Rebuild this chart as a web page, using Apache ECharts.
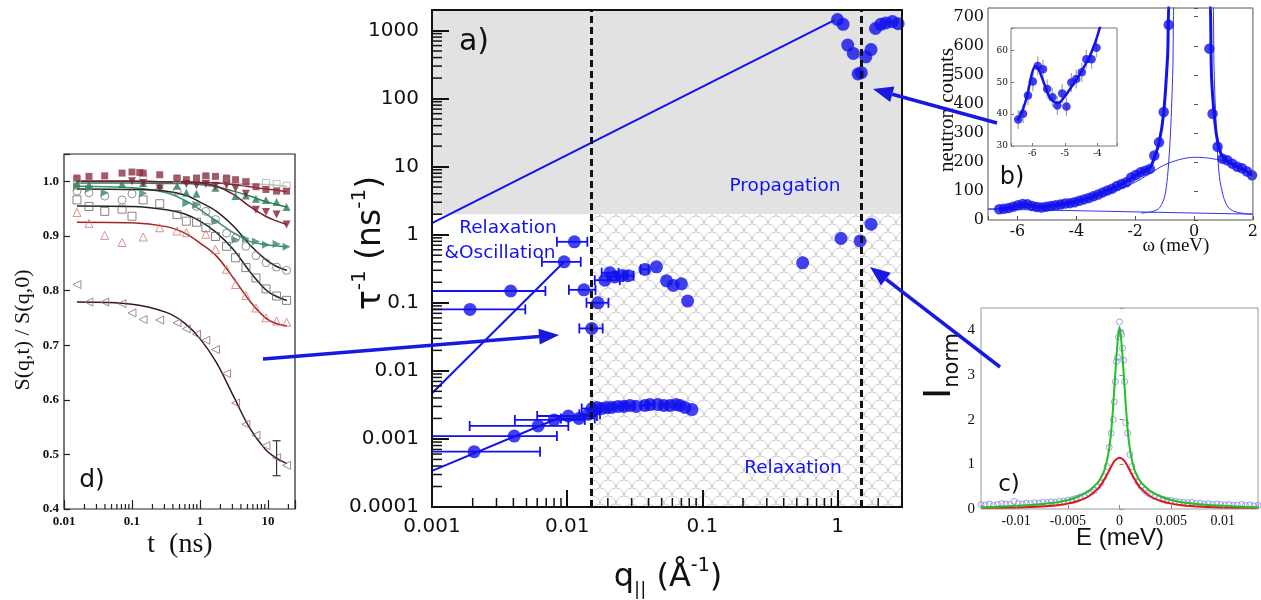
<!DOCTYPE html>
<html>
<head>
<meta charset="utf-8">
<script src="https://cdn.jsdelivr.net/npm/echarts@6/dist/echarts.min.js"></script>
<style>
  html, body { margin: 0; padding: 0; background: #fff; }
  #chart { width: 1261px; height: 600px; }
</style>
</head>
<body>
<div id="chart"></div>
<script>
// ---------- a) relaxation rate vs in-plane q ----------
const qMin = 0.001, qMax = 3, rMin = 0.0001, rMax = 2000;
const qBounds = [0.015, 1.5];      // dashed separators
const rBound = 2;                  // top of the relaxation zone

const qProp = [1.0, 1.10, 1.19, 1.31, 1.42, 1.50, 1.62, 1.77, 1.91, 2.09, 2.28, 2.55, 2.81];
const rProp = [1450, 1230, 610, 460, 230, 240, 410, 525, 1070, 1230, 1290, 1350, 1260];
const qHigh = [0.552, 1.06, 1.47, 1.77];
const rHigh = [0.386, 0.88, 0.81, 1.43];

const qOsc = [0.00191, 0.00382, 0.0095, 0.0113, 0.0133, 0.0152, 0.0169, 0.019, 0.0207, 0.0225, 0.0253, 0.0283, 0.0376, 0.0458, 0.0543, 0.0609, 0.070, 0.0778];
const rOsc = [0.080, 0.149, 0.40, 0.787, 0.155, 0.042, 0.10, 0.215, 0.276, 0.24, 0.252, 0.25, 0.309, 0.337, 0.21, 0.18, 0.19, 0.106];
const qOscLo = [0.001, 0.001, 0.0065, 0.0084, 0.0103, 0.0123, 0.0139, 0.016, 0.018, 0.020, 0.023, 0.026, 0.035, null, null, null, null, null];
const qOscHi = [0.0049, 0.0069, 0.0126, 0.0141, 0.0162, 0.0183, 0.0202, 0.0245, 0.024, 0.026, 0.028, 0.031, 0.040, null, null, null, null, null];

const qRel = [0.00205, 0.00406, 0.0061, 0.0080, 0.0102, 0.0122, 0.0143, 0.01525, 0.0166, 0.0181, 0.0197, 0.0214, 0.0238, 0.0263, 0.0291, 0.0323, 0.0376, 0.041, 0.047, 0.052, 0.0576, 0.0638, 0.0683, 0.0743, 0.0838];
const rRel = [0.00065, 0.0011, 0.00155, 0.0019, 0.00217, 0.0020, 0.0023, 0.0028, 0.0029, 0.0028, 0.0029, 0.0029, 0.0030, 0.0030, 0.0031, 0.0030, 0.0031, 0.0032, 0.0032, 0.0031, 0.0031, 0.0032, 0.0031, 0.0029, 0.0027];
const qRelLo = [0.001, 0.001, 0.0019, 0.0041, 0.006, 0.009, 0.0123, 0.0128, null, 0.016, null, null, 0.022, null, 0.027, null, 0.0355, 0.039, null, 0.049, null, null, null, null, null];
const qRelHi = [0.0063, 0.0084, 0.0102, 0.0135, 0.0166, 0.016, 0.0175, 0.0178, null, 0.0205, null, null, 0.0258, null, 0.0315, null, 0.040, 0.0435, null, 0.055, null, null, null, null, null];

const propLine = [[0.001, 1.48], [0.95, 1420]];
const diffLine = [[0.001, 0.0047], [0.0095, 0.40]];
const relLine = [[0.001, 0.00034], [0.009, 0.0021]];

// ---------- d) intermediate scattering functions ----------
const tD = [0.0155, 0.0233, 0.0397, 0.0715, 0.100, 0.130, 0.146, 0.256, 0.46, 0.63, 0.89, 1.22, 1.69, 2.46, 3.34, 4.74, 6.66, 9.34, 13.4, 18.8];
const sSqFill = [1.006, 1.009, 1.010, 1.015, 1.017, 1.016, 1.015, 1.012, 1.006, 1.003, 1.006, 1.010, 1.009, 1.006, 1.003, 0.999, 0.990, 0.985, 0.982, 0.982];
const sSqLight = [1.003, null, null, null, null, null, 1.008, null, 1.004, null, null, 1.007, null, 1.003, null, 0.999, null, 0.997, 0.995, 0.992];
const sTriUp = [0.997, 0.994, null, 0.995, null, null, 0.997, 0.993, 0.992, 0.979, 0.977, null, 0.988, null, 0.973, 0.974, 0.968, 0.966, 0.962, 0.953];
const sTriDown = [null, null, null, null, 1.0, null, 0.997, 0.987, null, 0.995, 0.993, 0.995, 0.992, 0.993, 0.987, 0.977, 0.948, 0.944, 0.939, 0.921];
const sTriRight = [0.990, 0.986, 0.979, null, null, null, 0.978, null, null, 0.960, 0.957, null, 0.927, null, 0.893, 0.895, 0.890, 0.884, 0.885, 0.880];
const sCircle = [0.982, 0.979, 0.973, 0.966, 0.977, null, null, null, 0.982, null, 0.954, 0.945, 0.930, 0.905, 0.896, 0.881, 0.864, 0.851, 0.843, 0.837];
const sSqOpen = [0.966, 0.954, 0.945, 0.949, 0.936, null, 0.966, 0.959, 0.939, 0.927, 0.925, 0.915, 0.899, 0.881, 0.860, 0.842, 0.823, 0.803, 0.790, 0.782];
const sTriOpen = [0.943, 0.923, 0.901, 0.888, null, null, 0.898, 0.915, 0.909, 0.906, null, 0.903, 0.875, 0.839, 0.811, 0.791, 0.768, 0.750, 0.744, 0.742];
const sTriLeft = [0.811, 0.779, 0.779, 0.776, 0.759, null, 0.747, 0.746, 0.741, 0.730, 0.720, 0.709, 0.692, 0.648, 0.594, 0.555, 0.535, 0.516, 0.494, 0.480];
const dErr = [13.4, 0.461, 0.525];

const tFit = [0.0155, 0.1, 0.32, 0.6, 1.0, 1.75, 3.1, 5.4, 9.2, 13, 19];
const fitLight = [1.000, 1.000, 0.999, 0.999, 0.998, 0.997, 0.996, 0.995, 0.994, 0.993, 0.991];
const fitSqFill = [1.000, 1.000, 0.999, 0.999, 0.998, 0.997, 0.994, 0.990, 0.986, 0.984, 0.981];
const fitTriUp = [0.997, 0.997, 0.996, 0.996, 0.994, 0.990, 0.982, 0.973, 0.963, 0.958, 0.953];
const fitTriDown = [1.000, 1.000, 0.999, 0.998, 0.997, 0.991, 0.976, 0.954, 0.936, 0.928, 0.921];
const fitTriRight = [0.991, 0.988, 0.979, 0.965, 0.948, 0.927, 0.906, 0.890, 0.884, 0.882, 0.880];
const fitCircle = [0.986, 0.985, 0.982, 0.975, 0.962, 0.945, 0.918, 0.884, 0.857, 0.845, 0.837];
const fitSqOpen = [0.955, 0.954, 0.948, 0.940, 0.927, 0.906, 0.875, 0.835, 0.802, 0.790, 0.782];
const fitTriOpen = [0.925, 0.924, 0.917, 0.905, 0.887, 0.863, 0.823, 0.781, 0.750, 0.740, 0.735];
const fitTriLeft = [0.779, 0.775, 0.760, 0.740, 0.712, 0.668, 0.607, 0.548, 0.509, 0.494, 0.483];

// ---------- b) neutron spectrum ----------
const bW = [-6.62, -6.46, -6.30, -6.14, -5.98, -5.82, -5.66, -5.50, -5.34, -5.18, -5.02, -4.86, -4.70, -4.54, -4.38, -4.22, -4.06, -3.90, -3.74, -3.58, -3.42, -3.26, -3.10, -2.94, -2.78, -2.62, -2.46, -2.30, -2.14, -1.98, -1.82, -1.66, -1.50, -1.35, -1.19, -1.03, -0.86, 0.52, 0.63, 0.80, 0.97, 1.13, 1.30, 1.47, 1.63, 1.80, 1.97];
const bCounts = [37, 39, 41, 46, 51, 55, 54, 48, 45, 43, 46, 48, 51, 53, 57, 58, 61, 66, 71, 76, 82, 88, 95, 102, 108, 117, 124, 130, 146, 155, 164, 170, 176, 222, 268, 372, 672, 590, 366, 252, 211, 206, 194, 183, 178, 167, 154];
const bFitW = [-6.62, -6.46, -6.30, -6.14, -5.98, -5.82, -5.66, -5.50, -5.34, -5.18, -5.02, -4.70, -4.38, -4.06, -3.74, -3.42, -3.10, -2.78, -2.46, -2.14, -1.82, -1.50, -1.35, -1.19, -1.03, -0.90, -0.80, 0.50, 0.60, 0.75, 0.90, 1.05, 1.30, 1.60, 2.00];
const bFit = [37, 39, 42, 47, 52, 54, 53, 49, 46, 45, 46, 51, 57, 63, 71, 83, 96, 109, 124, 143, 163, 180, 215, 265, 370, 560, 760, 760, 480, 300, 232, 210, 193, 178, 154];
const bBgW = [-7, 2];
const bBg = [38, 20];
const bBroadW = [-7, -6, -5, -4, -3, -2, -1.5, -1, -0.5, 0, 0.5, 1, 1.5, 2];
const bBroad = [37, 42, 50, 63, 88, 130, 160, 190, 208, 216, 213, 203, 183, 157];
const bNarrowW = [-1.8, -1.5, -1.3, -1.15, -1.0, -0.9, -0.8, -0.72, -0.66, 0.62, 0.68, 0.76, 0.86, 1.0, 1.15, 1.35, 1.6, 2.0];
const bNarrow = [24, 27, 33, 45, 80, 150, 300, 520, 760, 760, 520, 300, 150, 80, 45, 30, 24, 20];

const insetW = [-6.43, -6.28, -6.13, -5.98, -5.83, -5.67, -5.54, -5.38, -5.23, -5.08, -4.95, -4.80, -4.65, -4.48, -4.34, -4.18, -4.03];
const insetC = [38.3, 40.1, 45.8, 50.2, 55.1, 54.1, 47.9, 45.3, 42.7, 46.5, 42.4, 49.9, 51.0, 53.1, 57.2, 57.2, 60.8];
const insetErr = [3, 3, 3, 3, 3, 3, 3, 3, 3, 3, 3, 3, 3, 3, 3, 3, 3];
const insetFitW = [-6.45, -6.3, -6.15, -6.0, -5.9, -5.8, -5.65, -5.5, -5.35, -5.2, -5.0, -4.8, -4.6, -4.4, -4.2, -4.05, -3.9];
const insetFit = [38, 41, 46, 53, 55, 54, 50, 46, 44, 43.5, 45.5, 48.5, 51.5, 55, 59, 63, 68];

// ---------- c) normalised intensity ----------
const cE = [-0.0134, -0.0130, -0.0126, -0.0122, -0.0118, -0.0114, -0.0110, -0.0106, -0.0102, -0.0098, -0.0094, -0.0090, -0.0086, -0.0082, -0.0078, -0.0074, -0.0070, -0.0066, -0.0062, -0.0058, -0.0054, -0.0050, -0.0046, -0.0042, -0.0038, -0.0034, -0.0030, -0.0027, -0.0024, -0.0021, -0.0018, -0.0015, -0.0012, -0.0010, -0.0008, -0.0006, -0.0005, -0.0004, -0.0003, -0.0002, -0.0001, 0, 0.0001, 0.0002, 0.0003, 0.0004, 0.0005, 0.0006, 0.0008, 0.0010, 0.0012, 0.0015, 0.0018, 0.0021, 0.0024, 0.0027, 0.0030, 0.0034, 0.0038, 0.0042, 0.0046, 0.0050, 0.0054, 0.0058, 0.0062, 0.0066, 0.0070, 0.0074, 0.0078, 0.0082, 0.0086, 0.0090, 0.0094, 0.0098, 0.0102, 0.0106, 0.0110, 0.0114, 0.0118, 0.0122, 0.0126, 0.0130, 0.0134];
const cI = [0.10, 0.09, 0.11, 0.08, 0.10, 0.12, 0.11, 0.10, 0.17, 0.12, 0.11, 0.13, 0.12, 0.14, 0.13, 0.15, 0.14, 0.16, 0.15, 0.17, 0.18, 0.20, 0.21, 0.24, 0.27, 0.30, 0.35, 0.38, 0.42, 0.50, 0.58, 0.72, 0.95, 1.38, 1.70, 2.00, 2.40, 2.85, 3.30, 3.40, 3.85, 4.19, 3.95, 3.90, 3.60, 3.33, 2.85, 1.93, 1.70, 1.22, 0.95, 0.74, 0.60, 0.50, 0.42, 0.36, 0.33, 0.28, 0.25, 0.22, 0.20, 0.19, 0.17, 0.16, 0.15, 0.14, 0.15, 0.12, 0.13, 0.11, 0.12, 0.10, 0.11, 0.10, 0.09, 0.10, 0.08, 0.09, 0.10, 0.08, 0.09, 0.07, 0.08];
const cGreenE = [-0.0134, -0.012, -0.010, -0.008, -0.006, -0.005, -0.004, -0.003, -0.0025, -0.002, -0.0015, -0.0012, -0.001, -0.0008, -0.0006, -0.0004, -0.0002, 0, 0.0002, 0.0004, 0.0006, 0.0008, 0.001, 0.0012, 0.0015, 0.002, 0.0025, 0.003, 0.004, 0.005, 0.006, 0.008, 0.010, 0.012, 0.0134];
const cGreen = [0.04, 0.05, 0.07, 0.10, 0.15, 0.20, 0.28, 0.40, 0.50, 0.62, 0.85, 1.10, 1.35, 1.75, 2.35, 3.05, 3.70, 4.08, 3.70, 3.05, 2.35, 1.75, 1.35, 1.10, 0.85, 0.62, 0.50, 0.40, 0.28, 0.20, 0.15, 0.10, 0.07, 0.05, 0.04];
const cRedE = [-0.0134, -0.010, -0.008, -0.006, -0.005, -0.004, -0.003, -0.002, -0.0015, -0.001, -0.0005, 0, 0.0005, 0.001, 0.0015, 0.002, 0.003, 0.004, 0.005, 0.006, 0.008, 0.010, 0.0134];
const cRed = [0.02, 0.03, 0.05, 0.085, 0.12, 0.18, 0.28, 0.48, 0.65, 0.86, 1.07, 1.15, 1.07, 0.86, 0.65, 0.48, 0.28, 0.18, 0.12, 0.085, 0.05, 0.03, 0.02];

// ---------- helpers ----------
const BLUE = '#1212ee';
const ARROW = '#1818e0';
const zip = (xs, ys) => xs.map((x, i) => [x, ys[i]]).filter(p => p[1] != null);

function decade(v) {
  const l = Math.log10(v);
  if (Math.abs(l - Math.round(l)) > 1e-6) return '';
  return String(Number(v.toPrecision(3)));
}
function minorTicks(lo, hi) {
  const out = [];
  for (let e = Math.floor(Math.log10(lo)); e <= Math.ceil(Math.log10(hi)); e++) {
    for (let m = 2; m <= 9; m++) {
      const v = +(m * Math.pow(10, e)).toPrecision(3);
      if (v > lo * 1.0001 && v < hi * 0.9999) out.push(v);
    }
  }
  return out;
}
function multipleOf(step, digits) {
  return v => Math.abs(v / step - Math.round(v / step)) < 1e-6 ? v.toFixed(digits) : '';
}

// fish-scale hatch used for the relaxation zone
const tile = document.createElement('canvas');
tile.width = 16; tile.height = 16;
(function () {
  const ctx = tile.getContext('2d');
  ctx.fillStyle = '#ffffff';
  ctx.fillRect(0, 0, 16, 16);
  ctx.strokeStyle = '#cbcbcb';
  ctx.lineWidth = 1;
  const rows = [[-16, 0], [-8, 8], [0, 0], [8, 8], [16, 0]];
  rows.forEach(([y, off]) => {
    for (let x = off - 16; x <= 32; x += 16) {
      ctx.beginPath();
      ctx.arc(x, y + 8, 8, Math.PI, 2 * Math.PI);
      ctx.stroke();
    }
  });
})();

function hErrItem(color, capLo, capH, lw) {
  return function (params, api) {
    const y = api.value(0), lo = api.value(1), hi = api.value(2);
    const a = api.coord([lo, y]), b = api.coord([hi, y]);
    const kids = [{ type: 'line', shape: { x1: a[0], y1: a[1], x2: b[0], y2: b[1] }, style: { stroke: color, lineWidth: lw } }];
    if (lo > capLo) kids.push({ type: 'line', shape: { x1: a[0], y1: a[1] - capH, x2: a[0], y2: a[1] + capH }, style: { stroke: color, lineWidth: lw } });
    kids.push({ type: 'line', shape: { x1: b[0], y1: b[1] - capH, x2: b[0], y2: b[1] + capH }, style: { stroke: color, lineWidth: lw } });
    return { type: 'group', children: kids };
  };
}
function vErrItem(color, capW, lw) {
  return function (params, api) {
    const x = api.value(0), lo = api.value(1), hi = api.value(2);
    const a = api.coord([x, lo]), b = api.coord([x, hi]);
    const kids = [{ type: 'line', shape: { x1: a[0], y1: a[1], x2: b[0], y2: b[1] }, style: { stroke: color, lineWidth: lw } }];
    if (capW > 0) {
      kids.push({ type: 'line', shape: { x1: a[0] - capW, y1: a[1], x2: a[0] + capW, y2: a[1] }, style: { stroke: color, lineWidth: lw } });
      kids.push({ type: 'line', shape: { x1: b[0] - capW, y1: b[1], x2: b[0] + capW, y2: b[1] }, style: { stroke: color, lineWidth: lw } });
    }
    return { type: 'group', children: kids };
  };
}
function tickSeries(xi, vals, vertical, len, lw, color) {
  return {
    type: 'custom', xAxisIndex: xi, yAxisIndex: xi, z: 6, silent: true,
    data: vals, encode: { x: 0, y: 1 },
    renderItem: (p, api) => {
      const c = api.coord([api.value(0), api.value(1)]);
      const shape = vertical
        ? { x1: c[0], y1: c[1], x2: c[0], y2: c[1] - len }
        : { x1: c[0], y1: c[1], x2: c[0] + len, y2: c[1] };
      return { type: 'line', shape, style: { stroke: color, lineWidth: lw } };
    }
  };
}
function errRows(qs, rs, lo, hi) {
  const out = [];
  qs.forEach((q, i) => { if (lo[i] != null) out.push([rs[i], lo[i], hi[i]]); });
  return out;
}
function dScatter(vals, symbol, rotate, color, filled, size) {
  return {
    type: 'scatter', xAxisIndex: 1, yAxisIndex: 1, z: 4,
    data: zip(tD, vals), symbol, symbolRotate: rotate, symbolSize: size,
    itemStyle: filled ? { color } : { color: 'rgba(255,255,255,0)', borderColor: color, borderWidth: 1 }
  };
}
function dLine(vals, color) {
  return {
    type: 'line', xAxisIndex: 1, yAxisIndex: 1, z: 3, data: zip(tFit, vals),
    showSymbol: false, smooth: 0.35, lineStyle: { color, width: 1.5 }
  };
}

const lbl = (family, size, extra) => Object.assign({ color: '#111', fontFamily: family, fontSize: size }, extra || {});

const chart = echarts.init(document.getElementById('chart'));

const option = {
  animation: false,
  backgroundColor: '#fff',
  grid: [
    { left: 432, top: 10, width: 470, height: 497, show: true, z: 10, backgroundColor: 'transparent', borderColor: '#111', borderWidth: 2 },
    { left: 64, top: 154, width: 231, height: 355, show: true, z: 10, backgroundColor: 'transparent', borderColor: '#222', borderWidth: 1.2 },
    { left: 988, top: 8, width: 270, height: 212, show: true, z: 10, backgroundColor: 'transparent', borderColor: '#555', borderWidth: 1 },
    { left: 1011, top: 28, width: 106, height: 118, show: true, z: 3, backgroundColor: '#fff', borderColor: '#777', borderWidth: 1 },
    { left: 981, top: 308, width: 279, height: 201, show: true, z: 10, backgroundColor: 'transparent', borderColor: '#999', borderWidth: 1 }
  ],
  xAxis: [
    { type: 'log', gridIndex: 0, min: qMin, max: qMax, z: 5,
      axisLine: { show: false }, splitLine: { show: false },
      axisTick: { inside: true, length: 17, lineStyle: { color: '#111', width: 2 } },
      axisLabel: lbl('DejaVu Sans', 20, { formatter: decade, margin: 10 }) },
    { type: 'log', gridIndex: 1, min: 0.01, max: 25, z: 5,
      axisLine: { show: false }, splitLine: { show: false },
      axisTick: { inside: true, length: 9, lineStyle: { color: '#222', width: 1.2 } },
      axisLabel: lbl('Liberation Serif', 13, { formatter: decade, margin: 6, fontWeight: 'bold' }) },
    { type: 'value', gridIndex: 2, min: -7, max: 2, splitNumber: 5, z: 5,
      axisLine: { show: false }, splitLine: { show: false },
      axisTick: { inside: true, length: 4, lineStyle: { color: '#555' } },
      axisLabel: lbl('DejaVu Serif', 16, { formatter: multipleOf(2, 0), margin: 4 }) },
    { type: 'value', gridIndex: 3, min: -6.65, max: -3.4, splitNumber: 3, z: 5,
      axisLine: { show: false }, splitLine: { show: false },
      axisTick: { inside: true, length: 3, lineStyle: { color: '#777' } },
      axisLabel: lbl('DejaVu Serif', 9, { formatter: multipleOf(1, 0), margin: 3 }) },
    { type: 'value', gridIndex: 4, min: -0.0134, max: 0.0134, splitNumber: 5, z: 5,
      axisLine: { show: false }, splitLine: { show: false },
      axisTick: { inside: true, length: 4, lineStyle: { color: '#888' } },
      axisLabel: lbl('Liberation Serif', 14, { formatter: v => { const f = multipleOf(0.005, 4)(v); return f === '' ? '' : String(Number(f)); }, margin: 5 }) }
  ],
  yAxis: [
    { type: 'log', gridIndex: 0, min: rMin, max: rMax, z: 5,
      axisLine: { show: false }, splitLine: { show: false },
      axisTick: { inside: true, length: 17, lineStyle: { color: '#111', width: 2 } },
      axisLabel: lbl('DejaVu Sans', 20, { formatter: decade, margin: 13 }) },
    { type: 'value', gridIndex: 1, min: 0.4, max: 1.05, interval: 0.1, z: 5,
      axisLine: { show: false }, splitLine: { show: false },
      axisTick: { inside: true, length: 6, lineStyle: { color: '#222', width: 1.2 } },
      axisLabel: lbl('Liberation Serif', 13, { formatter: multipleOf(0.1, 1), margin: 5, fontWeight: 'bold' }) },
    { type: 'value', gridIndex: 2, min: 0, max: 730, interval: 100, z: 5,
      axisLine: { show: false }, splitLine: { show: false },
      axisTick: { inside: true, length: 4, lineStyle: { color: '#555' } },
      axisLabel: lbl('DejaVu Serif', 16, { formatter: multipleOf(100, 0), margin: 4 }) },
    { type: 'value', gridIndex: 3, min: 30, max: 67, interval: 10, z: 5,
      axisLine: { show: false }, splitLine: { show: false },
      axisTick: { inside: true, length: 3, lineStyle: { color: '#777' } },
      axisLabel: lbl('DejaVu Serif', 9, { formatter: multipleOf(10, 0), margin: 3 }) },
    { type: 'value', gridIndex: 4, min: 0, max: 4.5, interval: 1, z: 5,
      axisLine: { show: false }, splitLine: { show: false },
      axisTick: { inside: true, length: 4, lineStyle: { color: '#888' } },
      axisLabel: lbl('Liberation Serif', 15, { formatter: multipleOf(1, 0), margin: 6 }) }
  ],
  series: [
    // ----- a) background zones and separators
    { type: 'line', xAxisIndex: 0, yAxisIndex: 0, data: [], z: 1, silent: true,
      markArea: { silent: true, data: [
        [{ xAxis: qMin, yAxis: rBound, itemStyle: { color: '#e2e2e2' } }, { xAxis: qMax, yAxis: rMax }],
        [{ xAxis: qBounds[0], yAxis: rMin, itemStyle: { color: { image: tile, repeat: 'repeat' } } }, { xAxis: qMax, yAxis: rBound }]
      ] },
      markLine: { silent: true, symbol: 'none', precision: 6, label: { show: false },
        lineStyle: { color: '#111', type: [7, 4], width: 3 },
        data: qBounds.map(q => ({ xAxis: q })) } },
    tickSeries(0, minorTicks(qMin, qMax).map(v => [v, rMin]), true, 9, 1.5, '#111'),
    tickSeries(0, minorTicks(rMin, rMax).map(v => [qMin, v]), false, 10, 1.5, '#111'),
    { type: 'line', xAxisIndex: 0, yAxisIndex: 0, z: 3, data: propLine, showSymbol: false, lineStyle: { color: BLUE, width: 2 } },
    { type: 'line', xAxisIndex: 0, yAxisIndex: 0, z: 3, data: diffLine, showSymbol: false, lineStyle: { color: BLUE, width: 2 } },
    { type: 'line', xAxisIndex: 0, yAxisIndex: 0, z: 3, data: relLine, showSymbol: false, lineStyle: { color: BLUE, width: 2 } },
    { type: 'custom', xAxisIndex: 0, yAxisIndex: 0, z: 3, encode: { x: [1, 2], y: 0 },
      data: errRows(qOsc, rOsc, qOscLo, qOscHi).concat(errRows(qRel, rRel, qRelLo, qRelHi)),
      renderItem: hErrItem(BLUE, qMin * 1.01, 5, 1.8) },
    { type: 'scatter', xAxisIndex: 0, yAxisIndex: 0, z: 4, symbolSize: 13, itemStyle: { color: BLUE },
      data: zip(qProp, rProp).concat(zip(qHigh, rHigh), zip(qOsc, rOsc), zip(qRel, rRel)) },

    // ----- d) S(q,t)/S(q,0)
    tickSeries(1, minorTicks(0.01, 25).map(v => [v, 0.4]), true, 5, 1.2, '#222'),
    dLine(fitLight, '#b9c6c0'),
    dLine(fitSqFill, '#8b2535'),
    dLine(fitTriUp, '#2c7d5c'),
    dLine(fitTriDown, '#7a1a28'),
    dLine(fitTriRight, '#3a9070'),
    dLine(fitCircle, '#222'),
    dLine(fitSqOpen, '#222'),
    dLine(fitTriOpen, '#a42424'),
    dLine(fitTriLeft, '#3a1818'),
    dScatter(sSqLight, 'rect', 0, '#b0b0b0', false, 7),
    dScatter(sSqFill, 'rect', 0, '#8b3343', true, 7),
    dScatter(sTriUp, 'triangle', 0, '#2a7a55', true, 8),
    dScatter(sTriDown, 'triangle', 180, '#7a2232', true, 8),
    dScatter(sTriRight, 'triangle', -90, '#3a8a65', true, 8),
    dScatter(sCircle, 'circle', 0, '#777', false, 8),
    dScatter(sSqOpen, 'rect', 0, '#666', false, 8),
    dScatter(sTriOpen, 'triangle', 0, '#d07575', false, 8),
    dScatter(sTriLeft, 'triangle', 90, '#8a6a8a', false, 8),
    { type: 'custom', xAxisIndex: 1, yAxisIndex: 1, z: 4, encode: { x: 0, y: [1, 2] },
      data: [dErr], renderItem: vErrItem('#333', 4, 1.2) },

    // ----- b) spectrum
    { type: 'line', xAxisIndex: 2, yAxisIndex: 2, z: 2, data: zip(bBgW, bBg), showSymbol: false, lineStyle: { color: '#3333ee', width: 1 } },
    { type: 'line', xAxisIndex: 2, yAxisIndex: 2, z: 2, data: zip(bBroadW, bBroad), showSymbol: false, smooth: 0.3, lineStyle: { color: '#3333ee', width: 1 } },
    { type: 'line', xAxisIndex: 2, yAxisIndex: 2, z: 2, data: zip(bNarrowW, bNarrow), showSymbol: false, smooth: 0.3, lineStyle: { color: '#3333ee', width: 1 } },
    { type: 'line', xAxisIndex: 2, yAxisIndex: 2, z: 2, data: zip(bFitW, bFit), showSymbol: false, smooth: 0.3, lineStyle: { color: BLUE, width: 3 } },
    { type: 'scatter', xAxisIndex: 2, yAxisIndex: 2, z: 2, symbolSize: 10.5, itemStyle: { color: BLUE }, data: zip(bW, bCounts) },

    // ----- b) inset
    { type: 'custom', xAxisIndex: 3, yAxisIndex: 3, z: 4, encode: { x: 0, y: [1, 2] },
      data: insetW.map((w, i) => [w, insetC[i] - insetErr[i], insetC[i] + insetErr[i]]),
      renderItem: vErrItem('#aaaaaa', 0, 1.3) },
    { type: 'line', xAxisIndex: 3, yAxisIndex: 3, z: 4, data: zip(insetFitW, insetFit), showSymbol: false, smooth: 0.3, lineStyle: { color: BLUE, width: 2.5 } },
    { type: 'scatter', xAxisIndex: 3, yAxisIndex: 3, z: 5, symbolSize: 8.5, itemStyle: { color: BLUE }, data: zip(insetW, insetC) },

    // ----- c) normalised intensity
    { type: 'scatter', xAxisIndex: 4, yAxisIndex: 4, z: 3, symbolSize: 6,
      itemStyle: { color: 'rgba(255,255,255,0)', borderColor: '#8585e6', borderWidth: 1 }, data: zip(cE, cI) },
    { type: 'line', xAxisIndex: 4, yAxisIndex: 4, z: 4, data: zip(cRedE, cRed), showSymbol: false, smooth: 0.3, lineStyle: { color: '#e01818', width: 2 } },
    { type: 'line', xAxisIndex: 4, yAxisIndex: 4, z: 4, data: zip(cGreenE, cGreen), showSymbol: false, smooth: 0.3, lineStyle: { color: '#22c022', width: 2 } }
  ],
  graphic: []
};

function arrow(x1, y1, x2, y2) {
  const ang = Math.atan2(y2 - y1, x2 - x1), head = 20, hw = 8;
  const bx = x2 - head * Math.cos(ang), by = y2 - head * Math.sin(ang);
  const nx = -Math.sin(ang) * hw, ny = Math.cos(ang) * hw;
  return [
    { type: 'line', z: 50, shape: { x1, y1, x2: bx, y2: by }, style: { stroke: ARROW, lineWidth: 3.5 } },
    { type: 'polygon', z: 50, shape: { points: [[x2, y2], [bx + nx, by + ny], [bx - nx, by - ny]] }, style: { fill: ARROW } }
  ];
}
function txt(x, y, text, font, color, extra) {
  return Object.assign({ type: 'text', x, y, z: 40, style: { text, font, fill: color || '#111', align: 'center', verticalAlign: 'middle' } }, extra || {});
}

option.graphic = [
  // panel tags
  txt(474, 42, 'a)', '30px "DejaVu Sans"'),
  txt(1012, 178, 'b)', '24px "DejaVu Sans"'),
  txt(1009, 485, 'c)', '23px "DejaVu Sans"'),
  txt(92, 480, 'd)', '25px "DejaVu Sans"'),
  // zone names
  txt(785, 186, 'Propagation', '18.5px "DejaVu Sans"', BLUE),
  txt(508, 228, 'Relaxation', '18.5px "DejaVu Sans"', BLUE),
  txt(500, 253, '&Oscillation', '18.5px "DejaVu Sans"', BLUE),
  txt(793, 468, 'Relaxation', '18.5px "DejaVu Sans"', BLUE),
  // axis titles
  { type: 'text', x: 668, y: 578, z: 40, style: {
      text: '{m|q}{sub|||}{m| (Å}{sup|-1}{m|)}', align: 'center', verticalAlign: 'middle',
      rich: { m: { font: '32px "DejaVu Sans"', fill: '#111', lineHeight: 42, verticalAlign: 'middle' },
              sub: { font: '18px "DejaVu Sans"', fill: '#111', lineHeight: 42, verticalAlign: 'bottom' },
              sup: { font: '19px "DejaVu Sans"', fill: '#111', lineHeight: 42, verticalAlign: 'top' } } } },
  { type: 'text', x: 371, y: 243, rotation: Math.PI / 2, z: 40, style: {
      text: '{m|τ}{sup|-1}{m| (ns}{sup|-1}{m|)}', align: 'center', verticalAlign: 'middle',
      rich: { m: { font: '33px "DejaVu Sans"', fill: '#111', lineHeight: 42, verticalAlign: 'middle' },
              sup: { font: '20px "DejaVu Sans"', fill: '#111', lineHeight: 42, verticalAlign: 'top' } } } },
  txt(180, 545, 't  (ns)', '28px "Liberation Serif"'),
  txt(23, 330, 'S(q,t) / S(q,0)', '22px "Liberation Serif"', '#111', { rotation: Math.PI / 2 }),
  txt(947, 110, 'neutron counts', '21px "Liberation Serif"', '#111', { rotation: Math.PI / 2 }),
  txt(1176, 246, 'ω (meV)', '19px "Liberation Serif"'),
  txt(1120, 538, 'E (meV)', '24px "Liberation Sans"'),
  { type: 'text', x: 940, y: 366, rotation: Math.PI / 2, z: 40, style: {
      text: '{m|I}{sub|norm}', align: 'center', verticalAlign: 'middle',
      rich: { m: { font: '38px "DejaVu Sans"', fill: '#111', lineHeight: 46, verticalAlign: 'middle' },
              sub: { font: '21px "DejaVu Sans"', fill: '#111', lineHeight: 46, verticalAlign: 'bottom' } } } }
].concat(
  arrow(263, 359, 559, 335),
  arrow(997, 123, 873, 89),
  arrow(1000, 367, 870, 267)
);

chart.setOption(option);
</script>
</body>
</html>
